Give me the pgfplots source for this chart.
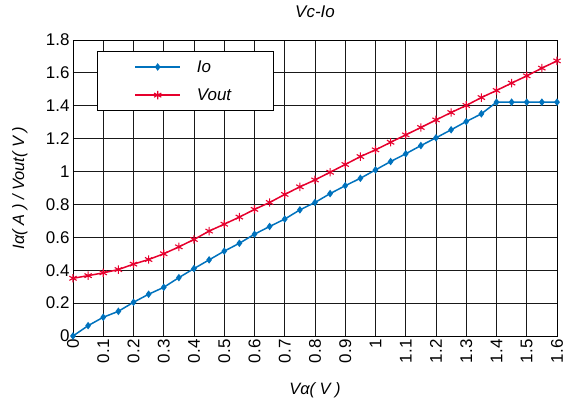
\documentclass[border=0pt]{standalone}
\usepackage{pgfplots}
\pgfplotsset{compat=1.18}
\usepackage{fontspec}
\setmainfont{Liberation Sans}
\definecolor{ioblue}{RGB}{0,114,189}
\definecolor{vred}{RGB}{230,0,45}
\pgfplotstableread{
x io vout
0 0 0.351
0.05 0.063 0.367
0.1 0.114 0.384
0.15 0.150 0.404
0.2 0.205 0.437
0.25 0.254 0.465
0.3 0.296 0.500
0.35 0.355 0.542
0.4 0.410 0.587
0.45 0.463 0.638
0.5 0.516 0.680
0.55 0.564 0.723
0.6 0.619 0.770
0.65 0.666 0.812
0.7 0.711 0.861
0.75 0.767 0.907
0.8 0.812 0.949
0.85 0.866 0.996
0.9 0.914 1.043
0.95 0.959 1.091
1.0 1.010 1.132
1.05 1.061 1.178
1.1 1.108 1.223
1.15 1.158 1.268
1.2 1.205 1.314
1.25 1.254 1.359
1.3 1.304 1.402
1.35 1.351 1.450
1.4 1.422 1.493
1.45 1.422 1.538
1.5 1.422 1.582
1.55 1.422 1.629
1.6 1.422 1.673
}\datatable
\begin{document}
\begin{tikzpicture}
\path[use as bounding box] (-73bp,-69bp) rectangle (500bp,336bp);
\begin{axis}[
  scale only axis,
  width=484bp, height=296bp,
  xmin=0, xmax=1.6, ymin=0, ymax=1.8,
  xtick={0,0.1,...,1.6},
  xticklabels={0,0.1,0.2,0.3,0.4,0.5,0.6,0.7,0.8,0.9,1,1.1,1.2,1.3,1.4,1.5,1.6},
  ytick={0,0.2,0.4,0.6,0.8,1,1.2,1.4,1.6,1.8},
  yticklabels={0,0.2,0.4,0.6,0.8,1,1.2,1.4,1.6,1.8},
  tick style={draw=none},
  grid=major,
  major grid style={line width=0.9bp, draw=black!90},
  axis line style={line width=0.9bp, black},
  ticklabel style={font=\fontsize{17}{20}\selectfont},
  xticklabel style={rotate=90, anchor=east},
  title={\itshape Vc-Io},
  title style={font=\fontsize{17}{20}\selectfont, at={(axis description cs:0.5,1)}, anchor=base, yshift=17bp},
  xlabel={\itshape Vα( V )},
  ylabel={\itshape Iα( A ) / Vout( V )},
  label style={font=\fontsize{16.5}{20}\selectfont},
  xlabel style={at={(axis description cs:0.5,-0.182)}, anchor=center},
  ylabel style={at={(axis description cs:-0.11,0.5)}, anchor=center, rotate=0},
  legend cell align=left,
  legend style={at={(axis description cs:0.0496,0.963)}, anchor=north west,
    draw=black, line width=0.9bp, fill=white,
    font=\fontsize{17}{20}\selectfont\itshape,
    inner xsep=37bp, inner ysep=7bp, row sep=11bp, column sep=14bp,
    nodes={inner sep=2bp}},
  legend image code/.code={%
    \draw[mark repeat=2,mark phase=2,#1] plot coordinates {(0bp,0bp) (22.5bp,0bp) (45bp,0bp)};},
]
\addplot[color=ioblue, line width=1.5bp, mark=diamond*, mark size=2.6bp, mark options={solid, fill=ioblue}] table[x=x, y=io] {\datatable};
\addlegendentry{Io}
\addplot[color=vred, line width=1.5bp, mark=asterisk, mark size=4.2bp, mark options={solid, line width=1.1bp}] table[x=x, y=vout] {\datatable};
\addlegendentry{Vout\hspace{3bp}\mbox{}}
\end{axis}
\end{tikzpicture}
\end{document}
